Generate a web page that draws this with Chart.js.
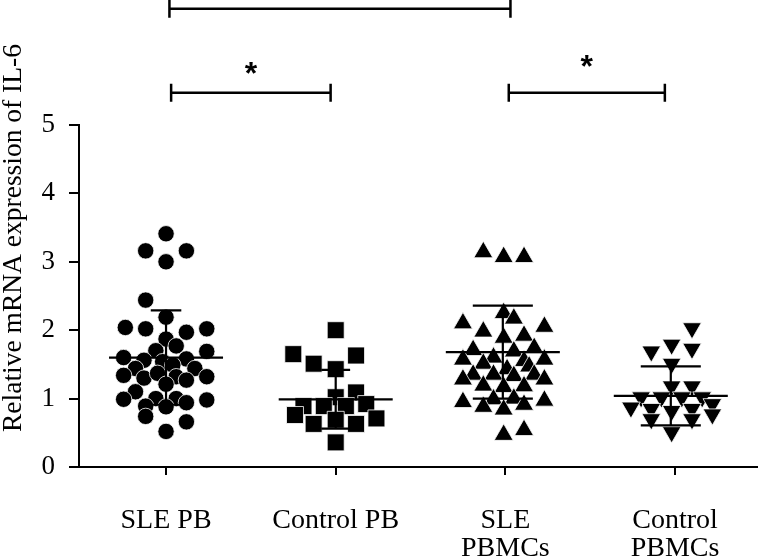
<!DOCTYPE html>
<html>
<head>
<meta charset="utf-8">
<script src="https://cdn.jsdelivr.net/npm/chart.js@4.4.1/dist/chart.umd.min.js"></script>
<style>
  html, body { margin: 0; padding: 0; background: #fff; }
  canvas { display: block; }
</style>
</head>
<body>
<canvas id="chart" width="758" height="558"></canvas>
<script>
// Group labels on the x axis (one array entry per line of text).
const CATEGORIES = [["SLE PB"], ["Control PB"], ["SLE", "PBMCs"], ["Control", "PBMCs"]];
const Y_TICKS = [0, 1, 2, 3, 4, 5];
const Y_TITLE = "Relative mRNA expression of IL-6";

// Individual samples: x is the jittered column position, y the expression value.
const SLE_PB_X = [1.00, 0.88, 1.12, 1.00, 0.88, 1.00, 0.76, 0.88, 1.12, 1.24, 1.00, 1.06, 0.94,
  1.24, 0.75, 0.87, 1.12, 0.98, 0.82, 1.04, 1.17, 0.75, 0.87, 0.95, 1.06, 1.12, 1.24, 1.00,
  0.82, 0.75, 0.94, 1.06, 1.00, 0.88, 1.12, 1.24, 0.88, 1.12, 1.00];
const SLE_PB_Y = [3.41, 3.16, 3.16, 3.00, 2.44, 2.19, 2.04, 2.02, 1.97, 2.02, 1.87, 1.77, 1.70,
  1.69, 1.60, 1.56, 1.58, 1.54, 1.44, 1.49, 1.44, 1.34, 1.30, 1.37, 1.32, 1.27, 1.32, 1.21,
  1.10, 0.99, 1.00, 1.00, 0.88, 0.89, 0.94, 0.98, 0.74, 0.66, 0.52];

const CTRL_PB_X = [2.00, 1.75, 2.12, 1.87, 2.00, 2.00, 2.12, 1.81, 1.93, 2.06, 2.18, 1.76, 2.24,
  1.87, 2.00, 2.12, 2.00];
const CTRL_PB_Y = [2.00, 1.65, 1.63, 1.51, 1.43, 1.02, 1.09, 0.89, 0.89, 0.89, 0.92, 0.76, 0.71,
  0.63, 0.69, 0.63, 0.36];

const SLE_PBMC_X = [2.87, 2.99, 3.11, 2.99, 3.05, 2.75, 3.23, 2.87, 3.11, 2.99, 2.81, 3.17, 3.05,
  2.75, 2.93, 3.11, 3.23, 2.87, 3.01, 3.14, 2.81, 2.93, 3.05, 3.17, 2.75, 3.23, 2.87, 2.99,
  3.11, 2.93, 3.05, 2.75, 3.23, 2.87, 3.11, 2.99, 2.99, 3.11];
const SLE_PBMC_Y = [3.14, 3.07, 3.07, 2.25, 2.17, 2.10, 2.05, 1.98, 1.92, 1.89, 1.71, 1.74, 1.69,
  1.57, 1.60, 1.55, 1.57, 1.51, 1.43, 1.47, 1.35, 1.35, 1.33, 1.35, 1.28, 1.28, 1.19, 1.17,
  1.18, 0.99, 1.00, 0.95, 0.97, 0.88, 0.91, 0.84, 0.47, 0.54];

const CTRL_PBMC_X = [4.10, 3.98, 3.86, 4.10, 3.98, 3.98, 4.10, 3.80, 3.92, 4.04, 4.16, 3.74, 4.22,
  3.86, 3.98, 4.10, 4.22, 3.86, 4.10, 3.98];
const CTRL_PBMC_Y = [2.03, 1.79, 1.69, 1.73, 1.51, 1.18, 1.18, 1.02, 1.02, 1.02, 1.02, 0.87, 0.92,
  0.85, 0.82, 0.85, 0.77, 0.70, 0.70, 0.51];

// Mean ± SD per group.
const GROUP_X = [1.00, 2.00, 2.985, 3.975];
const MEANS = [1.60, 0.99, 1.68, 1.04];
const SDS = [0.69, 0.43, 0.68, 0.43];

// Significance brackets above the plot.
const BRACKET_FROM = [1.02, 1.03, 3.02];
const BRACKET_TO = [3.03, 1.97, 3.94];
const BRACKET_Y = [6.70, 5.47, 5.47];
const BRACKET_LABEL = ["", "*", "*"];
const LABEL_Y = [0, 5.83, 5.94];

const SERIF = "'Liberation Serif', 'Times New Roman', serif";
const MEAN_HALF = 0.336;               // half width of the mean line, in x units
const CAP_HALF = [0.09, 0.085, 0.177, 0.177];

function pts(xs, ys) { return xs.map((x, i) => ({ x, y: ys[i] })); }

function ds(data, style, radius, rotation) {
  return {
    data, pointStyle: style, pointRadius: radius, pointHoverRadius: radius,
    rotation: rotation || 0, backgroundColor: "#000", borderColor: "#fff", borderWidth: 0.8,
  };
}

// Mean/SD bars, significance brackets and the rotated y title.
const overlay = {
  id: "overlay",
  afterDatasetsDraw(chart) {
    const { ctx, scales: { x, y } } = chart;
    ctx.save();
    ctx.strokeStyle = "#000";
    ctx.lineWidth = 2.2;
    GROUP_X.forEach((gx, i) => {
      const px = x.getPixelForValue(gx);
      const hi = y.getPixelForValue(MEANS[i] + SDS[i]);
      const lo = y.getPixelForValue(MEANS[i] - SDS[i]);
      const m = y.getPixelForValue(MEANS[i]);
      const cw = x.getPixelForValue(gx + CAP_HALF[i]) - px;
      const mw = x.getPixelForValue(gx + MEAN_HALF) - px;
      ctx.beginPath();
      ctx.moveTo(px, hi); ctx.lineTo(px, lo);
      ctx.moveTo(px - cw, hi); ctx.lineTo(px + cw, hi);
      ctx.moveTo(px - cw, lo); ctx.lineTo(px + cw, lo);
      ctx.moveTo(px - mw, m); ctx.lineTo(px + mw, m);
      ctx.stroke();
    });
    ctx.restore();
  },
  afterDraw(chart) {
    const { ctx, scales: { x, y } } = chart;
    ctx.save();
    ctx.strokeStyle = "#000";
    ctx.fillStyle = "#000";
    ctx.lineWidth = 2.5;
    BRACKET_FROM.forEach((f, i) => {
      const x1 = x.getPixelForValue(f), x2 = x.getPixelForValue(BRACKET_TO[i]);
      const by = y.getPixelForValue(BRACKET_Y[i]);
      ctx.beginPath();
      ctx.moveTo(x1, by); ctx.lineTo(x2, by);
      ctx.moveTo(x1, by - 9); ctx.lineTo(x1, by + 9);
      ctx.moveTo(x2, by - 9); ctx.lineTo(x2, by + 9);
      ctx.stroke();
      if (BRACKET_LABEL[i]) {
        ctx.font = "bold 32px 'Liberation Sans', Arial, sans-serif";
        ctx.textAlign = "center";
        ctx.textBaseline = "alphabetic";
        const t = ctx.measureText(BRACKET_LABEL[i]);
        const cy = y.getPixelForValue(LABEL_Y[i]);
        const base = cy + (t.actualBoundingBoxAscent - t.actualBoundingBoxDescent) / 2;
        ctx.fillText(BRACKET_LABEL[i], (x1 + x2) / 2, base);
      }
    });
    ctx.translate(14, 238);
    ctx.rotate(-Math.PI / 2);
    ctx.font = "27.5px " + SERIF;
    ctx.textAlign = "center";
    ctx.textBaseline = "middle";
    ctx.fillText(Y_TITLE, 0, 0);
    ctx.restore();
  },
};

new Chart(document.getElementById("chart"), {
  type: "scatter",
  data: {
    datasets: [
      ds(pts(SLE_PB_X, SLE_PB_Y), "circle", 8.2),
      ds(pts(CTRL_PB_X, CTRL_PB_Y), "rect", 12),
      ds(pts(SLE_PBMC_X, SLE_PBMC_Y), "triangle", 11),
      ds(pts(CTRL_PBMC_X, CTRL_PBMC_Y), "triangle", 10.8, 180),
    ],
  },
  options: {
    responsive: false, animation: false, devicePixelRatio: 1,
    layout: { autoPadding: false, padding: { top: 125, left: 0, right: 0, bottom: 0 } },
    plugins: { legend: { display: false }, tooltip: { enabled: false } },
    scales: {
      x: {
        type: "linear", min: 0.487, max: 4.489,
        afterBuildTicks: s => { s.ticks = CATEGORIES.map((_, i) => ({ value: i + 1 })); },
        afterFit: s => { s.height = 91; s.paddingLeft = 0; s.paddingRight = 0; },
        grid: { drawOnChartArea: false, drawTicks: true, tickLength: 8, color: "#000", lineWidth: 2 },
        border: { display: true, color: "#000", width: 2 },
        ticks: {
          color: "#000", padding: 32, autoSkip: false, maxRotation: 0,
          font: { family: SERIF, size: 28, lineHeight: 1.0 },
          callback: v => CATEGORIES[Math.round(v) - 1],
        },
      },
      y: {
        min: 0, max: 5,
        afterBuildTicks: s => { s.ticks = Y_TICKS.map(v => ({ value: v })); },
        afterFit: s => { s.width = 79; },
        grid: { drawOnChartArea: false, drawTicks: true, tickLength: 10, color: "#000", lineWidth: 2 },
        border: { display: true, color: "#000", width: 2 },
        ticks: { color: "#000", padding: 14, font: { family: SERIF, size: 27 } },
      },
    },
  },
  plugins: [overlay],
});
</script>
</body>
</html>
